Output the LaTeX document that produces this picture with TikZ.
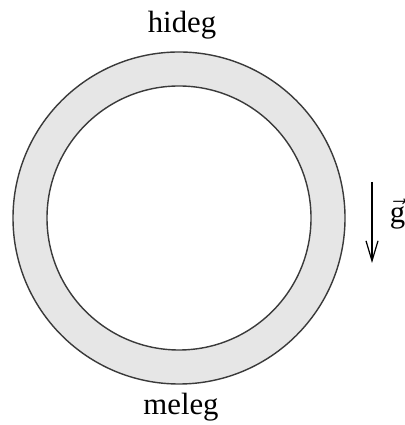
\documentclass[tikz,border=0pt]{standalone}
\usepackage{fontspec}
\setmainfont{Liberation Serif}
\usepackage{amsmath}
\usepackage{tikz}
\usetikzlibrary{arrows.meta,positioning}
\definecolor{ringfill}{HTML}{E6E6E6}
\definecolor{ringline}{HTML}{3A3A3A}

\begin{document}
\begin{tikzpicture}[
  font=\fontsize{17.5}{20}\selectfont,
  ring/.style={draw=ringline, line width=0.8pt, fill=ringfill, even odd rule},
  label/.style={inner sep=0pt, anchor=center}
]
\useasboundingbox (0,0) rectangle (8.08,8.5);
\coordinate (c) at (3.58,4.14);
\path[ring] (c) circle[radius=3.32cm] (c) circle[radius=2.64cm];
\node[label] (hot) at (3.64,8.0) {hideg};
\node[label] (cold) at (3.62,0.36) {meleg};
\coordinate (gtop) at (7.44,4.86);
\coordinate (gbot) at (7.44,3.24);
\draw[-{Straight Barb[length=4mm,width=2.4mm]}, line width=0.7pt] (gtop) -- (gbot);
\node[label] (g) at (7.95,4.22) {$\vec{\mathrm{g}}$};
\end{tikzpicture}
\end{document}
